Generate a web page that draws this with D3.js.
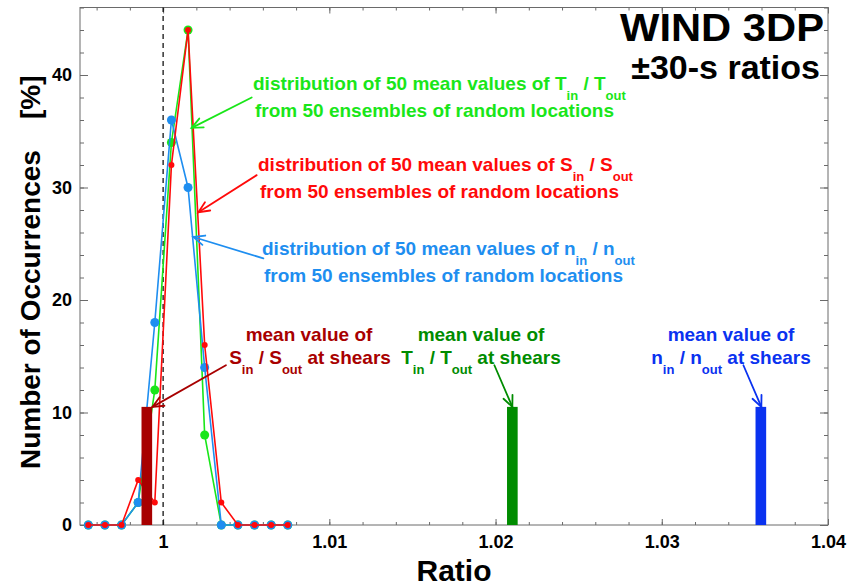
<!DOCTYPE html>
<html>
<head>
<meta charset="utf-8">
<script src="https://cdn.jsdelivr.net/npm/d3@7"></script>
<style>
  body { margin: 0; background: #fff; }
  text { font-family: "Liberation Sans", Arial, Helvetica, sans-serif; font-weight: bold; }
</style>
</head>
<body>
<svg id="chart"></svg>
<script>
// Histogram bin centres (ratio) and occurrence percentages per quantity
const ratioBins = [0.9955, 0.9965, 0.9975, 0.9985, 0.9995, 1.0005, 1.0015, 1.0025, 1.0035, 1.0045, 1.0055, 1.0065, 1.0075];
const occT = [0, 0, 0, 2, 12, 34, 44, 8, 0, 0, 0, 0, 0];
const occN = [0, 0, 0, 2, 18, 36, 30, 14, 0, 0, 0, 0, 0];
const occS = [0, 0, 0, 4, 2, 32, 44, 16, 2, 0, 0, 0, 0];

// Mean ratio at shears: S, T, n
const shearRatios = [0.99902, 1.02101, 1.03596];
const shearHeight = 10.5;
const shearBarWidth = 0.00064;

// Axis ticks
const xTicks = [1, 1.01, 1.02, 1.03, 1.04];
const xTickLabels = ["1", "1.01", "1.02", "1.03", "1.04"];
const yTicks = [0, 10, 20, 30, 40];

// Annotation arrows, in data units [ratio, percent]
const arrowTails = [[1.00533, 38.0], [1.00563, 31.1], [1.00603, 23.7], [1.00378, 14.2], [1.01993, 14.2], [1.03491, 14.2]];
const arrowTips = [[1.00172, 35.3], [1.00212, 27.8], [1.00182, 25.6], [0.99936, 10.5], [1.02101, 10.5], [1.03599, 10.5]];

const width = 851, height = 588;
const margin = { top: 7.5, right: 23, bottom: 63, left: 80 };

const cGreen = "#19e619", cRed = "#ff0a0a", cBlue = "#1e8ef0";
const cDarkRed = "#a80000", cDarkGreen = "#008c00", cDarkBlue = "#0a32f0";

const svg = d3.select("#chart").attr("width", width).attr("height", height);

const x = d3.scaleLinear().domain([0.995, 1.04]).range([margin.left, width - margin.right]);
const y = d3.scaleLinear().domain([0, 46]).range([height - margin.bottom, margin.top]);

// ---- axes (ticks point inward, box frame) ----
const axisColor = "#6a6a6a";
function styleAxis(g) {
  g.attr("font-family", null).attr("font-size", null);
  g.select(".domain").remove();
  g.selectAll(".tick line").attr("stroke", axisColor);
  g.selectAll("text")
    .style("font-family", "'Liberation Sans', Arial, sans-serif")
    .style("font-weight", "bold")
    .style("font-size", "18px")
    .attr("fill", "#000");
}

const xMinor = d3.range(0.996, 1.0401, 0.002);
const yMinor = d3.range(0, 47, 2);
const bottomY = y(0), topY = y(46), leftX = x(0.995), rightX = x(1.04);

svg.append("g").attr("transform", `translate(0,${bottomY})`)
  .call(d3.axisBottom(x).tickValues(xMinor).tickSize(-3).tickFormat("")).call(styleAxis);
svg.append("g").attr("transform", `translate(0,${bottomY})`)
  .call(d3.axisBottom(x).tickValues(xTicks).tickSize(-6).tickPadding(10)
    .tickFormat((d, i) => xTickLabels[i])).call(styleAxis);
svg.append("g").attr("transform", `translate(0,${topY})`)
  .call(d3.axisTop(x).tickValues(xMinor).tickSize(-3).tickFormat("")).call(styleAxis);
svg.append("g").attr("transform", `translate(0,${topY})`)
  .call(d3.axisTop(x).tickValues(xTicks).tickSize(-6).tickFormat("")).call(styleAxis);

svg.append("g").attr("transform", `translate(${leftX},0)`)
  .call(d3.axisLeft(y).tickValues(yMinor).tickSize(-4).tickFormat("")).call(styleAxis);
svg.append("g").attr("transform", `translate(${leftX},0)`)
  .call(d3.axisLeft(y).tickValues(yTicks).tickSize(-8).tickPadding(8).tickFormat(d3.format("d"))).call(styleAxis);
svg.append("g").attr("transform", `translate(${rightX},0)`)
  .call(d3.axisRight(y).tickValues(yMinor).tickSize(-4).tickFormat("")).call(styleAxis);
svg.append("g").attr("transform", `translate(${rightX},0)`)
  .call(d3.axisRight(y).tickValues(yTicks).tickSize(-8).tickFormat("")).call(styleAxis);

svg.append("rect")
  .attr("x", leftX).attr("y", topY)
  .attr("width", rightX - leftX).attr("height", bottomY - topY)
  .attr("fill", "none").attr("stroke", axisColor).attr("stroke-width", 1);

// dashed reference line at ratio = 1
svg.append("line")
  .attr("x1", x(1)).attr("x2", x(1)).attr("y1", bottomY).attr("y2", topY)
  .attr("stroke", "#000").attr("stroke-width", 1.2).attr("stroke-dasharray", "5,4");

// axis titles
svg.append("text")
  .attr("x", (leftX + rightX) / 2).attr("y", 581)
  .attr("text-anchor", "middle").attr("font-size", 30).text("Ratio");
svg.append("text")
  .attr("transform", `translate(40,${(topY + bottomY) / 2 + 6}) rotate(-90)`)
  .attr("text-anchor", "middle").attr("font-size", 28)
  .style("white-space", "pre")
  .text("Number of Occurrences    [%]");

// ---- distributions ----
const line = d3.line().x(d => x(d[0])).y(d => y(d[1]));
function drawSeries(values, color, r) {
  const pts = ratioBins.map((b, i) => [b, values[i]]);
  svg.append("path").datum(pts)
    .attr("d", line).attr("fill", "none")
    .attr("stroke", color).attr("stroke-width", 1.6);
  svg.append("g").selectAll("circle").data(pts).join("circle")
    .attr("cx", d => x(d[0])).attr("cy", d => y(d[1]))
    .attr("r", r).attr("fill", color);
}
drawSeries(occT, cGreen, 4.5);
drawSeries(occN, cBlue, 4.5);
drawSeries(occS, cRed, 3);

// ---- shear mean bars (drawn over the curves) ----
const barColors = [cDarkRed, cDarkGreen, cDarkBlue];
svg.selectAll(".shear").data(shearRatios).join("rect")
  .attr("class", "shear")
  .attr("x", d => x(d - shearBarWidth / 2))
  .attr("width", d => x(d + shearBarWidth / 2) - x(d - shearBarWidth / 2))
  .attr("y", y(shearHeight))
  .attr("height", y(0) - y(shearHeight))
  .attr("fill", (d, i) => barColors[i]);

// ---- arrows ----
const arrowColors = [cGreen, cRed, cBlue, cDarkRed, cDarkGreen, cDarkBlue];
arrowTails.forEach((t, i) => {
  const x0 = x(t[0]), y0 = y(t[1]);
  const x1 = x(arrowTips[i][0]), y1 = y(arrowTips[i][1]);
  const ang = Math.atan2(y1 - y0, x1 - x0);
  const len = 12, spread = 0.42;
  const g = svg.append("g").attr("stroke", arrowColors[i]).attr("stroke-width", 1.8)
    .attr("fill", "none").attr("stroke-linecap", "round");
  g.append("line").attr("x1", x0).attr("y1", y0).attr("x2", x1).attr("y2", y1);
  g.append("path").attr("d",
    `M${x1 - len * Math.cos(ang - spread)},${y1 - len * Math.sin(ang - spread)}` +
    `L${x1},${y1}` +
    `L${x1 - len * Math.cos(ang + spread)},${y1 - len * Math.sin(ang + spread)}`);
});

// ---- text with subscripts ----
function richText(px, py, parts, color, anchor) {
  const t = svg.append("text")
    .attr("x", px).attr("y", py)
    .attr("fill", color).attr("font-size", 19)
    .attr("text-anchor", anchor || "start")
    .style("white-space", "pre");
  let sub = false;
  parts.forEach(p => {
    const isSub = p[1] === 1;
    const ts = t.append("tspan").text(p[0]);
    if (isSub && !sub) ts.attr("dy", 10);
    if (!isSub && sub) ts.attr("dy", -10);
    if (isSub) ts.attr("font-size", 13);
    sub = isSub;
  });
  return t;
}

richText(253, 90, [["distribution of 50 mean values of T", 0], ["in", 1], [" / T", 0], ["out", 1]], cGreen);
richText(255, 117, [["from 50 ensembles of random locations", 0]], cGreen);
richText(258, 171, [["distribution of 50 mean values of S", 0], ["in", 1], [" / S", 0], ["out", 1]], cRed);
richText(260, 198, [["from 50 ensembles of random locations", 0]], cRed);
richText(262, 255, [["distribution of 50 mean values of n", 0], ["in", 1], [" / n", 0], ["out", 1]], cBlue);
richText(264, 282, [["from 50 ensembles of random locations", 0]], cBlue);

richText(309, 341, [["mean value of", 0]], cDarkRed, "middle");
richText(310, 364, [["S", 0], ["in", 1], [" / S", 0], ["out", 1], [" at shears", 0]], cDarkRed, "middle");
richText(481, 341, [["mean value of", 0]], cDarkGreen, "middle");
richText(481, 364, [["T", 0], ["in", 1], [" / T", 0], ["out", 1], [" at shears", 0]], cDarkGreen, "middle");
richText(731, 341, [["mean value of", 0]], cDarkBlue, "middle");
richText(731, 364, [["n", 0], ["in", 1], [" / n", 0], ["out", 1], [" at shears", 0]], cDarkBlue, "middle");

// ---- title ----
svg.append("text").attr("x", 824).attr("y", 41).attr("text-anchor", "end")
  .attr("font-size", 39).attr("textLength", 204).attr("lengthAdjust", "spacingAndGlyphs")
  .text("WIND 3DP");
svg.append("text").attr("x", 820).attr("y", 79).attr("text-anchor", "end")
  .attr("font-size", 34).text("±30-s ratios");
</script>
</body>
</html>
